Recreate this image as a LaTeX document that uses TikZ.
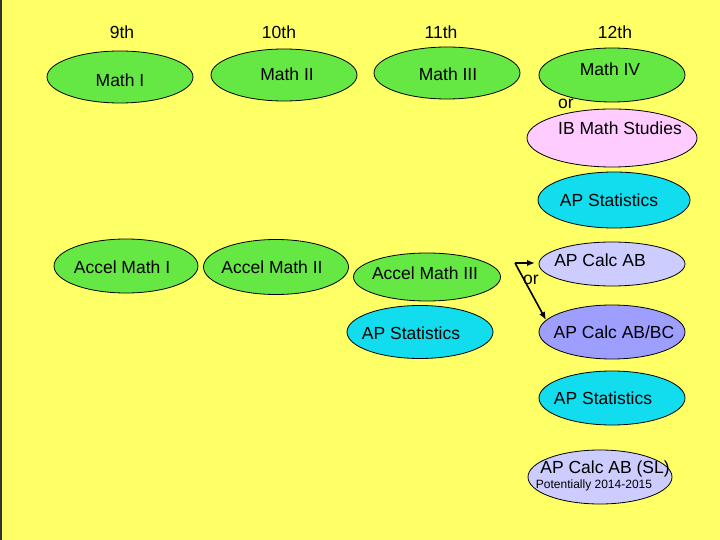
\documentclass[tikz,border=0pt]{standalone}
\usepackage{fontspec}
\setmainfont{Liberation Sans}
\usetikzlibrary{shapes.geometric,arrows.meta}
\definecolor{bgyellow}{RGB}{255,255,102}
\definecolor{mgreen}{RGB}{102,232,68}
\definecolor{mpink}{RGB}{255,204,255}
\definecolor{mcyan}{RGB}{17,221,238}
\definecolor{mlav}{RGB}{204,204,255}
\definecolor{mblue}{RGB}{158,158,255}
\tikzset{
  oval/.style={ellipse, draw=black, line width=0.8pt, inner sep=0pt, minimum width=146pt, minimum height=52pt},
  txt/.style={inner sep=0pt, font=\fontsize{17.5}{20}\selectfont},
  small/.style={inner sep=0pt, font=\fontsize{12}{14}\selectfont},
  arr/.style={line width=1.6pt, -{Latex[length=8pt,width=6.5pt]}}
}
\begin{document}
\begin{tikzpicture}[x=1pt,y=-1pt]
\fill[bgyellow] (0,0) rectangle (720,540);
\useasboundingbox (0,0) rectangle (720,540);
\draw[black!80, line width=1.5pt] (0.75,0) -- (0.75,540);
% headers
\node[txt] (h9) at (122,32) {9th};
\node[txt] (h10) at (279,32) {10th};
\node[txt] (h11) at (441,32) {11th};
\node[txt] (h12) at (615,32) {12th};
% regular track
\node[oval, fill=mgreen] (m1) at (120,77) {};
\node[txt] (m1t) at (120,80) {Math I};
\node[oval, fill=mgreen] (m2) at (284,75) {};
\node[txt] (m2t) at (287,74) {Math II};
\node[oval, fill=mgreen] (m3) at (447,73) {};
\node[txt] (m3t) at (448,74) {Math III};
\node[oval, fill=mgreen, minimum height=54pt] (m4) at (612,75) {};
\node[txt] (m4t) at (610,69) {Math IV};
\node[txt] (or1) at (566,104) {or};
\node[oval, fill=mpink, minimum width=170pt, minimum height=58pt] (ib) at (612,138) {};
\node[txt] (ibt) at (620,128) {IB Math Studies};
\node[oval, fill=mcyan, minimum width=152pt, minimum height=56pt] (aps1) at (614,200) {};
\node[txt] (aps1t) at (609,200) {AP Statistics};
% accelerated track
\node[oval, fill=mgreen, minimum width=144pt, minimum height=54pt] (a1) at (126,266) {};
\node[txt] (a1t) at (122,267) {Accel Math I};
\node[oval, fill=mgreen, minimum width=145pt, minimum height=55pt] (a2) at (276,267) {};
\node[txt] (a2t) at (272,267) {Accel Math II};
\node[oval, fill=mgreen, minimum width=147pt, minimum height=48pt] (a3) at (427,277) {};
\node[txt] (a3t) at (425,273) {Accel Math III};
\node[oval, fill=mcyan, minimum height=53pt] (aps2) at (420,332) {};
\node[txt] (aps2t) at (411,333) {AP Statistics};
\node[oval, fill=mlav, minimum height=44pt] (ab) at (612,264) {};
\node[txt] (abt) at (600,260) {AP Calc AB};
\node[oval, fill=mblue, minimum height=54pt] (bc) at (612,332) {};
\node[txt] (bct) at (614,332) {AP Calc AB/BC};
\node[oval, fill=mcyan, minimum height=54pt] (aps3) at (612,398) {};
\node[txt] (aps3t) at (603,398) {AP Statistics};
\node[oval, fill=mlav, minimum width=144pt, minimum height=54pt] (sl) at (600,477) {};
\node[txt] (slt) at (605,469) {AP Calc AB (SL)};
\node[small] (slp) at (594,485) {Potentially 2014-2015};
% or arrows
\coordinate (fork) at (515,263);
\coordinate (toab) at (535,263);
\coordinate (tobc) at (546,320);
\draw[arr] (fork) -- (toab);
\draw[arr] (fork) -- (tobc);
\node[txt] (or2) at (531,280) {or};
\end{tikzpicture}
\end{document}
